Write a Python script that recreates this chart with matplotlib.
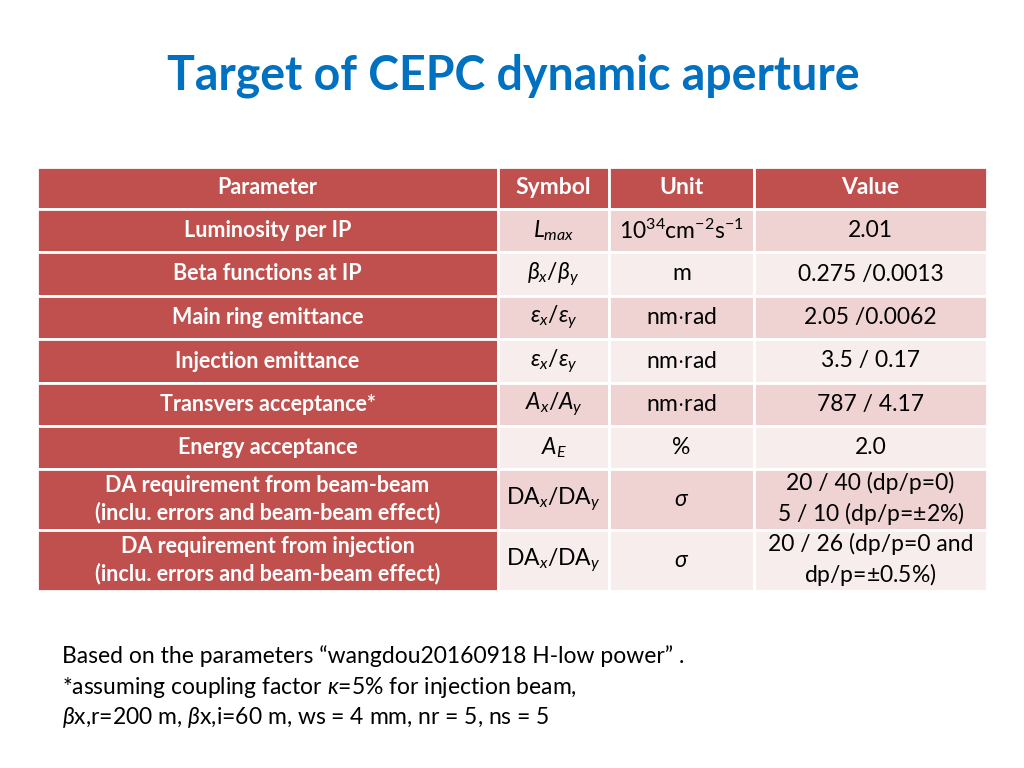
# CEPC dynamic aperture target table, redrawn as a slide
import matplotlib
matplotlib.use('Agg')
import matplotlib.pyplot as plt
from matplotlib.patches import Rectangle

plt.rcParams['font.family'] = 'Lato'
plt.rcParams['mathtext.fontset'] = 'custom'
plt.rcParams['mathtext.rm'] = 'Lato'
plt.rcParams['mathtext.it'] = 'Lato:italic'

title = 'Target of CEPC dynamic aperture'
headers = ['Parameter', 'Symbol', 'Unit', 'Value']
parameters = ['Luminosity per IP', 'Beta functions at IP', 'Main ring emittance',
              'Injection emittance', 'Transvers acceptance*', 'Energy acceptance',
              'DA requirement from beam-beam\n(inclu. errors and beam-beam effect)',
              'DA requirement from injection\n(inclu. errors and beam-beam effect)']
symbols = [r'$L_{max}$', r'$\beta_{x}/\beta_{y}$', r'$\varepsilon_{x}/\varepsilon_{y}$',
           r'$\varepsilon_{x}/\varepsilon_{y}$', r'$A_{x}/A_{y}$', r'$A_{E}$',
           r'$\mathrm{DA}_{x}/\mathrm{DA}_{y}$', r'$\mathrm{DA}_{x}/\mathrm{DA}_{y}$']
units = [r'$\mathrm{10^{34}cm^{-2}s^{-1}}$', 'm', r'nm$\cdot$rad', r'nm$\cdot$rad',
         r'nm$\cdot$rad', '%', r'$\sigma$', r'$\sigma$']
values = ['2.01', '0.275 /0.0013', '2.05 /0.0062', '3.5 / 0.17', '787 / 4.17', '2.0',
          '20 / 40 (dp/p=0)\n5 / 10 (dp/p=$\\pm$2%)',
          '20 / 26 (dp/p=0 and\ndp/p=$\\pm$0.5%)']
notes = ['Based on the parameters \u201cwangdou20160918 H-low power\u201d .',
         '*assuming coupling factor $\\kappa$=5% for injection beam,',
         '$\\beta$x,r=200 m, $\\beta$x,i=60 m, ws = 4 mm, nr = 5, ns = 5']

col_edges = [37, 498, 609, 754, 987]
row_edges = [167, 209, 252, 296, 339, 383, 426, 469, 530, 591]

red = '#C0504D'
pink_a = '#EFD3D2'
pink_b = '#F8EDED'

fig = plt.figure(figsize=(10.24, 7.68), dpi=100)
ax = fig.add_axes([0, 0, 1, 1])
ax.set_xlim(0, 1024)
ax.set_ylim(768, 0)
ax.axis('off')

ax.text(513, 76, title, color='#0070C0', fontsize=33.5, fontweight='bold',
        ha='center', va='center')

rows = [headers] + [list(r) for r in zip(parameters, symbols, units, values)]
for i, row in enumerate(rows):
    y0, y1 = row_edges[i], row_edges[i + 1]
    for j, txt in enumerate(row):
        x0, x1 = col_edges[j], col_edges[j + 1]
        if i == 0 or j == 0:
            fc, tc, fw = red, 'white', 'bold'
        else:
            fc = pink_a if i % 2 == 1 else pink_b
            tc, fw = 'black', 'normal'
        ax.add_patch(Rectangle((x0, y0), x1 - x0, y1 - y0, facecolor=fc,
                               edgecolor='white', linewidth=2))
        fs = 15.5 if j == 0 else 16.5
        ax.text((x0 + x1) / 2, (y0 + y1) / 2, txt, color=tc, fontsize=fs,
                fontweight=fw, ha='center', va='center', linespacing=1.3)

for k, line in enumerate(notes):
    ax.text(62, 656 + k * 31, line, fontsize=16.5, ha='left', va='center')

fig.savefig('out.png', dpi=100)
